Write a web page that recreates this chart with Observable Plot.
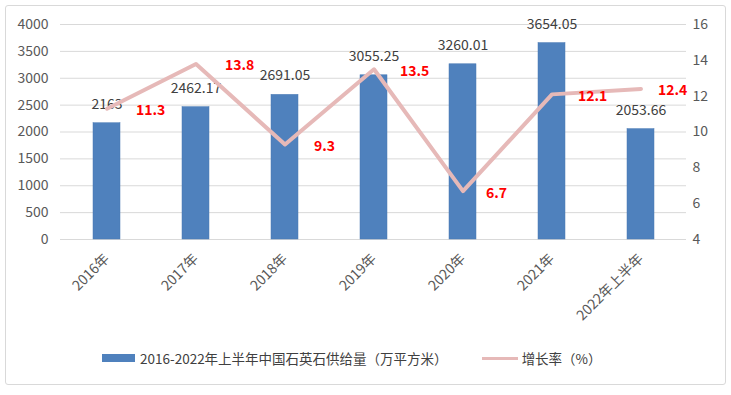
<!DOCTYPE html>
<html>
<head>
<meta charset="utf-8">
<script src="https://cdn.jsdelivr.net/npm/d3@7"></script>
<script src="https://cdn.jsdelivr.net/npm/@observablehq/plot@0.6"></script>
<style>
  html, body { margin: 0; padding: 0; background: #fff; }
  body { width: 731px; height: 395px; position: relative; overflow: hidden;
         font-family: "Noto Sans CJK SC", "Noto Sans", sans-serif; }
  #frame { position: absolute; left: 5px; top: 5px; width: 721px; height: 380px;
           border: 1px solid #d9d9d9; border-radius: 3px; box-sizing: border-box; }
  #chart { position: absolute; left: 0; top: 0; width: 731px; height: 330px; }
  #chart svg { position: absolute; left: 0; top: 0; }
  #legend { position: absolute; left: 102px; top: 348px; height: 20px; display: flex;
            align-items: center; font-size: 13.5px; color: #404040; white-space: nowrap; }
  .sw-bar { width: 33px; height: 8px; background: #4f81bd; margin-right: 5px; }
  .sw-line { width: 36px; height: 3px; background: #e6b9b8; margin-left: 34px; margin-right: 4px; }
</style>
</head>
<body>
<div id="frame"></div>
<div id="chart"></div>
<div id="legend">
  <div class="sw-bar"></div><span>2016-2022年上半年中国石英石供给量（万平方米）</span>
  <div class="sw-line"></div><span>增长率（%）</span>
</div>
<script>
const categories = ["2016年", "2017年", "2018年", "2019年", "2020年", "2021年", "2022年上半年"];
const supply = [2163, 2462.17, 2691.05, 3055.25, 3260.01, 3654.05, 2053.66];
const growth = [11.3, 13.8, 9.3, 13.5, 6.7, 12.1, 12.4];
const leftTicks = [0, 500, 1000, 1500, 2000, 2500, 3000, 3500, 4000];
const rightTicks = [4, 6, 8, 10, 12, 14, 16];

const table = categories.map((c, i) => ({cat: c, supply: supply[i], growth: growth[i]}));

// label nudges (styling, not data): horizontal offset of each growth label from its point
const growthLabelDx = [29, 29, 29, 26, 23, 26, 17];

const common = {
  width: 731, height: 330,
  marginLeft: 60, marginRight: 45, marginTop: 24, marginBottom: 91,
  style: {fontFamily: '"Noto Sans CJK SC", "Noto Sans", sans-serif', fontSize: "14px",
          color: "#595959", background: "transparent", overflow: "visible"}
};
const xScale = {domain: categories, type: "band", paddingInner: 0.7, paddingOuter: 0.35, label: null};

const p1 = Plot.plot({
  ...common,
  x: xScale,
  y: {domain: [0, 4000], label: null},
  marks: [
    Plot.gridY(leftTicks, {stroke: "#d9d9d9", strokeOpacity: 1}),
    Plot.barY(table, {x: "cat", y: "supply", fill: "#4f81bd", stroke: "#4a7ab3", strokeWidth: 0.5}),
    Plot.text(table, {x: "cat", y: "supply", text: d => String(d.supply), dy: -19,
                      fill: "#404040", fontSize: 14}),
    Plot.axisY(leftTicks, {anchor: "left", tickSize: 0, tickPadding: 12, label: null,
                           fontSize: 14, tickFormat: d => String(d)}),
    Plot.axisX({tickRotate: -45, tickSize: 0, tickPadding: 17, label: null, fontSize: 14})
  ]
});

const p2 = Plot.plot({
  ...common,
  x: {...xScale, axis: null},
  y: {domain: [4, 16], label: null},
  marks: [
    Plot.line(table, {x: "cat", y: "growth", stroke: "#e6b9b8", strokeWidth: 4}),
    ...table.map((d, i) => Plot.text([d], {x: "cat", y: "growth", text: e => e.growth.toFixed(1),
                      textAnchor: "start", dx: growthLabelDx[i], dy: 2, fill: "#ff0000",
                      fontWeight: "bold", fontSize: 14})),
    Plot.axisY(rightTicks, {anchor: "right", tickSize: 0, tickPadding: 6, label: null,
                            fontSize: 14, tickFormat: d => String(d)})
  ]
});

document.getElementById("chart").append(p1, p2);
</script>
</body>
</html>
